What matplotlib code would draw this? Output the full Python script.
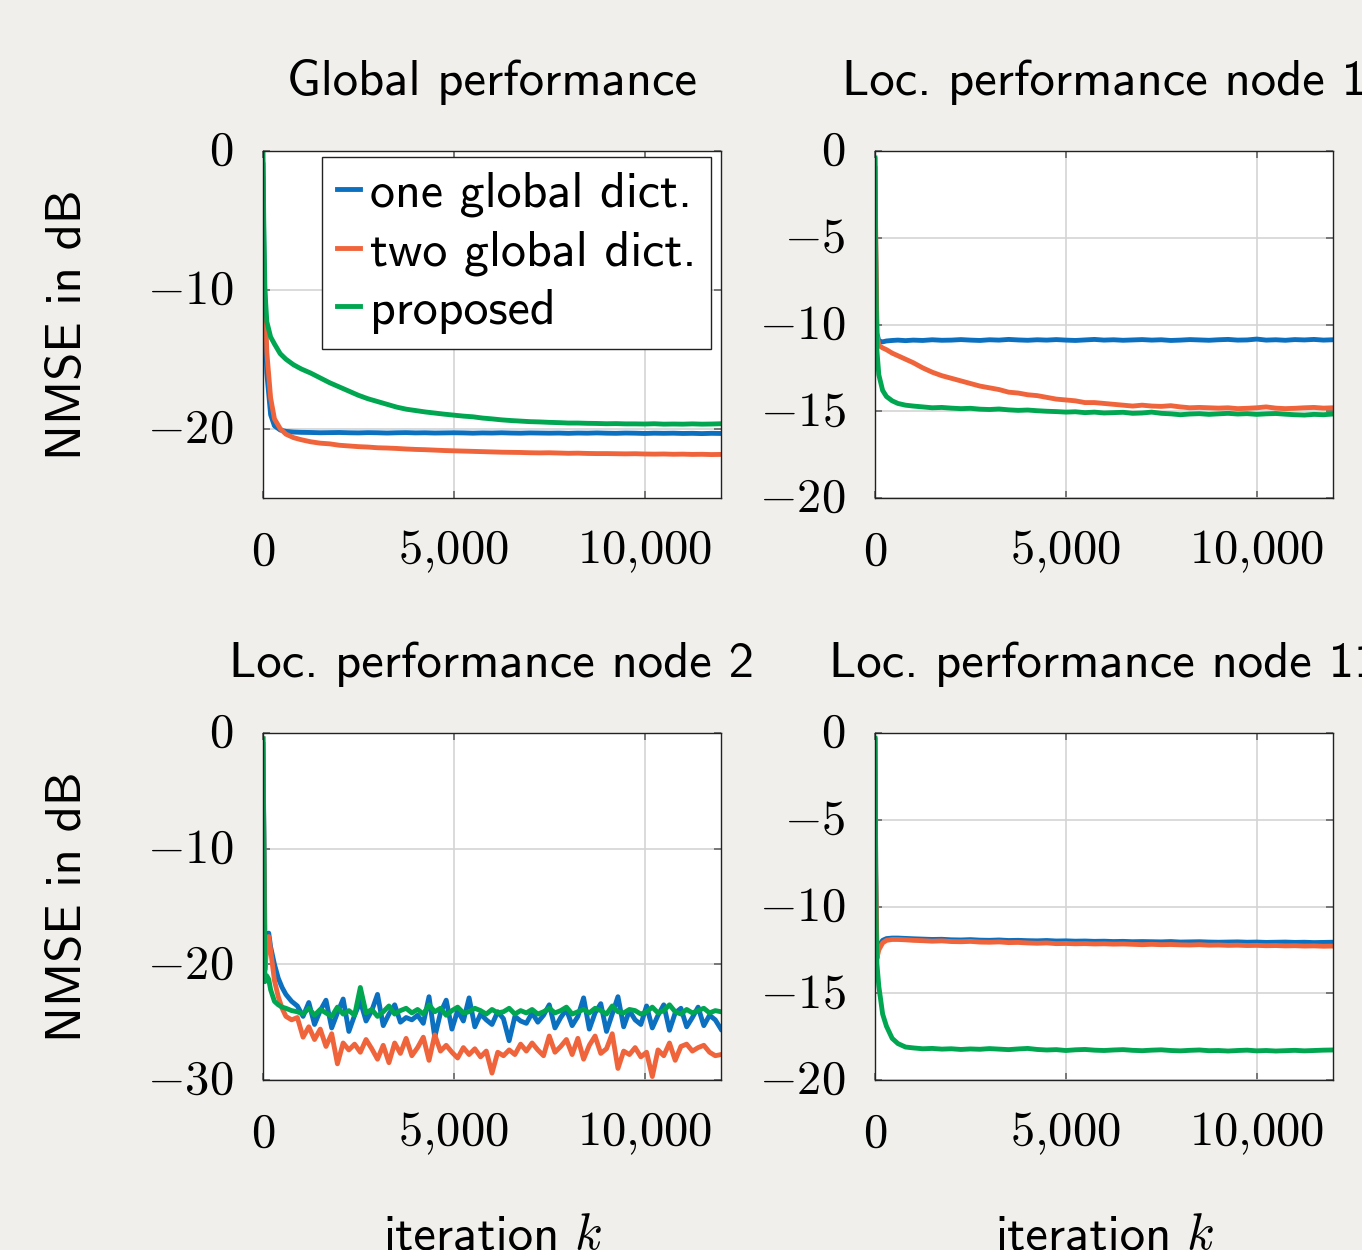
"""
plot.py

NMSE learning curves: global performance and local performance at three nodes.
"""

import matplotlib
matplotlib.use("Agg")
import matplotlib.pyplot as plt

# ===== data =====
K_SMOOTH = [0, 20, 50, 100, 200, 300, 450, 600, 800, 1000] + list(range(1250, 12001, 250))
K_NOISY = [0, 50, 100, 150, 200, 300, 400, 500, 600, 750, 900] + list(range(1050, 12001, 150))

glob_one = [
    -1.0, -7.0, -12.0, -16.0, -19.0, -19.8, -20.1, -20.2, -20.25, -20.27,
    -20.28, -20.3, -20.29, -20.28, -20.3, -20.31, -20.29, -20.3,
    -20.32, -20.3, -20.29, -20.31, -20.3, -20.32, -20.31, -20.3,
    -20.31, -20.33, -20.31, -20.32, -20.3, -20.32, -20.33, -20.31,
    -20.32, -20.33, -20.32, -20.34, -20.32, -20.33, -20.31, -20.33,
    -20.34, -20.32, -20.33, -20.35, -20.33, -20.34, -20.33, -20.35,
    -20.34, -20.36, -20.34, -20.35,
]
glob_two = [
    -2.0, -8.0, -10.3, -14.5, -17.8, -19.3, -20.0, -20.4, -20.65, -20.8,
    -20.95, -21.05, -21.1, -21.2, -21.25, -21.3, -21.33, -21.38,
    -21.4, -21.43, -21.47, -21.5, -21.52, -21.55, -21.58, -21.6,
    -21.62, -21.64, -21.66, -21.68, -21.7, -21.71, -21.72, -21.74,
    -21.75, -21.74, -21.76, -21.78, -21.77, -21.79, -21.8, -21.8,
    -21.81, -21.82, -21.81, -21.83, -21.84, -21.83, -21.85, -21.84,
    -21.86, -21.85, -21.87, -21.86,
]
glob_prop = [
    0.0, -5.0, -10.0, -12.3, -13.4, -13.9, -14.6, -15.0, -15.4, -15.7,
    -16.0, -16.35, -16.7, -17.0, -17.3, -17.6, -17.85, -18.05,
    -18.25, -18.45, -18.6, -18.7, -18.8, -18.88, -18.96, -19.03,
    -19.1, -19.15, -19.24, -19.3, -19.37, -19.42, -19.46, -19.5,
    -19.52, -19.55, -19.57, -19.6, -19.6, -19.62, -19.63, -19.65,
    -19.64, -19.66, -19.66, -19.67, -19.65, -19.68, -19.67, -19.68,
    -19.66, -19.68, -19.67, -19.65,
]

n1_one = [
    -1.0, -6.0, -10.5, -10.95, -11.0, -10.95, -10.92, -10.9, -10.93, -10.9,
    -10.92, -10.88, -10.91, -10.9, -10.87, -10.9, -10.92, -10.88,
    -10.9, -10.86, -10.89, -10.91, -10.88, -10.9, -10.87, -10.9,
    -10.92, -10.89, -10.86, -10.9, -10.88, -10.91, -10.89, -10.87,
    -10.9, -10.88, -10.92, -10.9, -10.87, -10.89, -10.91, -10.88,
    -10.86, -10.9, -10.89, -10.84, -10.9, -10.88, -10.91, -10.87,
    -10.89, -10.86, -10.9, -10.88,
]
n1_two = [
    -0.5, -5.0, -10.6, -11.2, -11.35, -11.45, -11.65, -11.8, -12.0, -12.2,
    -12.5, -12.75, -12.95, -13.1, -13.25, -13.4, -13.55, -13.65,
    -13.75, -13.9, -13.95, -14.05, -14.1, -14.2, -14.3, -14.35,
    -14.4, -14.5, -14.5, -14.55, -14.6, -14.65, -14.7, -14.65,
    -14.7, -14.72, -14.68, -14.75, -14.8, -14.78, -14.8, -14.82,
    -14.8, -14.85, -14.83, -14.8, -14.75, -14.82, -14.85, -14.83,
    -14.8, -14.78, -14.82, -14.8,
]
n1_prop = [
    -0.4, -7.0, -11.5, -12.9, -13.8, -14.15, -14.4, -14.55, -14.65, -14.7,
    -14.75, -14.8, -14.78, -14.82, -14.85, -14.83, -14.88, -14.9,
    -14.87, -14.92, -14.95, -14.93, -14.97, -15.0, -15.02, -15.05,
    -15.03, -15.08, -15.05, -15.1, -15.08, -15.06, -15.12, -15.1,
    -15.05, -15.12, -15.15, -15.2, -15.16, -15.14, -15.18, -15.15,
    -15.12, -15.16, -15.14, -15.18, -15.15, -15.13, -15.17, -15.2,
    -15.22, -15.18, -15.2, -15.16,
]

n2_one = [
    -1.0, -17.5, -17.8, -17.3, -18.5, -20.0, -21.2, -22.0, -22.6, -23.2, -23.6,
    -24.5, -23.3, -25.2, -24.0, -23.1, -25.5, -24.2, -23.0, -25.8, -24.4,
    -23.2, -24.9, -24.0, -22.6, -25.3, -24.3, -23.5, -25.0, -24.6, -24.8,
    -24.4, -25.1, -22.8, -26.3, -24.2, -23.1, -25.6, -24.0, -24.9, -22.9,
    -25.4, -24.3, -24.8, -25.2, -24.1, -24.7, -26.6, -24.5, -24.9, -25.1,
    -24.2, -25.0, -24.4, -23.5, -25.5, -24.6, -23.9, -25.3, -24.5, -22.9,
    -25.6, -24.2, -23.4, -25.8, -24.3, -22.8, -25.4, -24.0, -24.8, -25.2,
    -23.6, -25.5, -24.4, -23.5, -25.7, -24.2, -23.8, -25.4, -24.6, -23.7,
    -25.3, -24.4, -24.8, -25.6,
]
n2_two = [
    -0.5, -20.5, -18.5, -17.6, -18.8, -21.4, -22.8, -23.8, -24.5, -24.8, -24.6,
    -26.3, -25.4, -26.5, -25.6, -27.1, -26.0, -28.6, -26.8, -27.4, -26.9,
    -27.6, -26.5, -27.3, -28.2, -27.0, -28.5, -26.8, -27.7, -26.4, -27.9,
    -27.2, -26.3, -28.3, -26.1, -27.5, -27.0, -27.6, -28.1, -27.2, -27.8,
    -27.3, -28.0, -27.5, -29.4, -27.6, -27.9, -27.4, -27.8, -26.9, -27.5,
    -26.8, -27.4, -27.9, -26.2, -27.6, -27.1, -26.5, -27.8, -26.4, -28.2,
    -27.0, -26.2, -27.7, -27.3, -26.0, -29.0, -27.5, -27.8, -27.2, -28.0,
    -27.6, -29.7, -27.4, -27.9, -26.8, -28.3, -27.1, -26.9, -27.5, -27.2,
    -27.0, -27.6, -27.9, -27.8,
]
n2_prop = [
    -0.5, -21.5, -21.0, -21.3, -22.2, -23.2, -23.5, -23.7, -23.8, -24.0, -24.1,
    -24.3, -23.8, -24.4, -23.9, -24.2, -24.5, -23.7, -24.3, -24.0, -24.4,
    -22.0, -24.2, -23.9, -24.5, -24.1, -23.6, -24.3, -24.0, -23.8, -24.2,
    -23.9, -24.3, -23.5, -24.1, -23.8, -24.4, -24.0, -23.7, -24.2, -24.1,
    -23.8, -24.0, -24.3, -23.9, -24.2, -24.1, -23.8, -24.3, -24.0, -24.2,
    -23.9, -24.3, -24.1, -23.8, -24.2, -24.0, -23.7, -24.3, -24.1, -23.9,
    -24.2, -23.8, -24.0, -24.3, -23.6, -24.1, -24.2, -23.9, -24.0, -24.3,
    -24.1, -23.7, -24.2, -24.0, -23.5, -24.1, -24.3, -23.9, -24.2, -24.0,
    -23.8, -24.2, -24.0, -24.1,
]

n11_one = [
    -0.4, -8.0, -12.8, -12.3, -11.95, -11.85, -11.82, -11.82, -11.84, -11.86,
    -11.88, -11.9, -11.89, -11.92, -11.93, -11.91, -11.94, -11.95,
    -11.93, -11.96, -11.95, -11.97, -11.98, -11.96, -11.99, -11.98,
    -12.0, -11.99, -12.01, -12.0, -12.02, -12.01, -12.03, -12.02,
    -12.03, -12.04, -12.02, -12.05, -12.04, -12.03, -12.05, -12.06,
    -12.05, -12.04, -12.06, -12.05, -12.07, -12.06, -12.05, -12.07,
    -12.06, -12.08, -12.07, -12.06,
]
n11_two = [
    -0.4, -8.0, -13.0, -12.5, -12.1, -11.95, -11.9, -11.9, -11.92, -11.95,
    -11.97, -12.0, -11.98, -12.02, -12.03, -12.01, -12.05, -12.06,
    -12.04, -12.08, -12.07, -12.1, -12.12, -12.1, -12.14, -12.13,
    -12.15, -12.14, -12.16, -12.15, -12.17, -12.16, -12.18, -12.2,
    -12.18, -12.2, -12.19, -12.21, -12.22, -12.2, -12.23, -12.22,
    -12.24, -12.23, -12.25, -12.24, -12.26, -12.25, -12.27, -12.26,
    -12.28, -12.27, -12.29, -12.28,
]
n11_prop = [
    -0.3, -10.0, -13.3, -14.6, -16.2, -16.9, -17.6, -17.9, -18.1, -18.15,
    -18.2, -18.18, -18.22, -18.2, -18.24, -18.21, -18.23, -18.19,
    -18.22, -18.25, -18.21, -18.18, -18.24, -18.27, -18.25, -18.3,
    -18.26, -18.24, -18.28, -18.3, -18.27, -18.25, -18.29, -18.31,
    -18.28, -18.26, -18.3, -18.32, -18.29, -18.27, -18.31, -18.3,
    -18.33, -18.3, -18.28, -18.32, -18.3, -18.33, -18.31, -18.29,
    -18.32, -18.3, -18.28, -18.27,
]

TITLES = ["Global performance", "Loc. performance node 1",
          "Loc. performance node 2", "Loc. performance node 11"]
LABELS = ["one global dict.", "two global dict.", "proposed"]
X_TICKS = [0, 5000, 10000]
X_TICKLABELS = ["$0$", "$5{,}000$", "$10{,}000$"]


def main() -> None:
    plt.rcParams["mathtext.fontset"] = "cm"

    BG = "#f0efeb"
    C_ONE, C_TWO, C_PROP = "#0b70bf", "#f0643b", "#00a650"
    FS = 35          # tick labels (serif, math)
    FT = 36.5        # titles / labels (sans)
    SANS = ["cmss10", "DejaVu Sans"]

    fig = plt.figure(figsize=(13.62, 12.5), dpi=100, facecolor=BG)
    W, H = 1362, 1250

    panels = [
        # (left px, top px, x-data, series, ylim, yticks)
        (263, 151, K_SMOOTH, (glob_one, glob_two, glob_prop), (-25, 0), [0, -10, -20]),
        (875, 151, K_SMOOTH, (n1_one, n1_two, n1_prop), (-20, 0), [0, -5, -10, -15, -20]),
        (263, 733, K_NOISY, (n2_one, n2_two, n2_prop), (-30, 0), [0, -10, -20, -30]),
        (875, 733, K_SMOOTH, (n11_one, n11_two, n11_prop), (-20, 0), [0, -5, -10, -15, -20]),
    ]
    aw, ah = 458, 347

    axes = []
    for i, (lx, ty, kx, series, ylim, yt) in enumerate(panels):
        ax = fig.add_axes([lx / W, 1 - (ty + ah) / H, aw / W, ah / H])
        ax.set_facecolor("white")
        handles = []
        for ys, c, lab in zip(series, (C_ONE, C_TWO, C_PROP), LABELS):
            h, = ax.plot(kx, ys, color=c, lw=3.5, label=lab)
            handles.append(h)
        ax.set_xlim(0, 12000)
        ax.set_ylim(*ylim)
        ax.set_xticks(X_TICKS)
        ax.set_xticklabels(X_TICKLABELS)
        ax.set_yticks(yt)
        ax.set_yticklabels([f"${v}$" for v in yt], va="center")
        ax.grid(True, color="#d4d4d4", lw=1.2)
        ax.set_axisbelow(True)
        ax.tick_params(direction="in", top=True, right=True, length=5, width=1.2,
                       color="#666666", labelsize=FS, pad=21)
        for sp in ax.spines.values():
            sp.set_linewidth(1.0)
            sp.set_color("#222222")

        cx = (lx + aw / 2) / W
        fig.text(cx, 1 - (ty - 56) / H, TITLES[i], fontsize=FT, family=SANS,
                 ha="center", va="baseline")
        if lx == 263:
            fig.text(68 / W, 1 - (ty + ah / 2) / H, "NMSE in dB", fontsize=FT,
                     family=SANS, rotation=90, ha="center", va="center")
        if ty == 733:
            off = lx - 263
            fig.text((383 + off) / W, 1 - 1249 / H, "iteration", fontsize=FT,
                     family=SANS, ha="left", va="baseline")
            fig.text((574 + off) / W, 1 - 1249 / H, "$k$", fontsize=FT,
                     ha="left", va="baseline")
        axes.append((ax, handles))

    ax0, hs = axes[0]
    leg = ax0.legend(hs, LABELS, loc="upper right", bbox_to_anchor=(0.978, 0.983),
                     borderaxespad=0, handlelength=0.45, handletextpad=0.2,
                     labelspacing=0.26, borderpad=0.3,
                     fancybox=False, framealpha=1, edgecolor="#222222",
                     prop={"family": SANS, "size": 36})
    leg.get_frame().set_linewidth(1.0)

    fig.savefig("out.png", dpi=100, facecolor=BG)


if __name__ == "__main__":
    main()
